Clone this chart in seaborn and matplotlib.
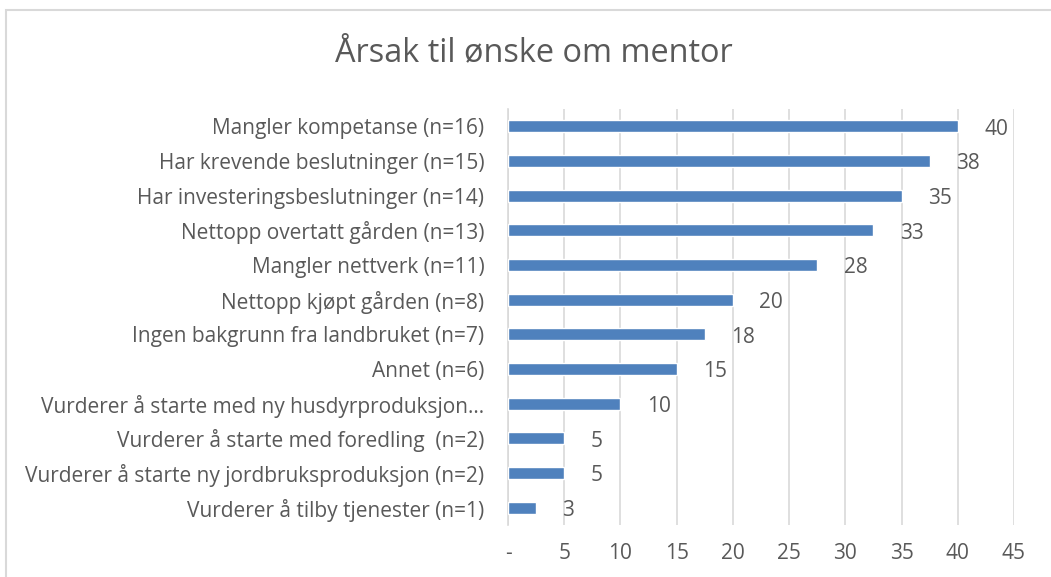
import math
import matplotlib
matplotlib.use("Agg")
import matplotlib.pyplot as plt
from matplotlib.patches import Rectangle
import seaborn as sns
import pandas as pd

# data (percent of respondents)
reasons = [
    "Mangler kompetanse (n=16)",
    "Har krevende beslutninger (n=15)",
    "Har investeringsbeslutninger (n=14)",
    "Nettopp overtatt gården (n=13)",
    "Mangler nettverk (n=11)",
    "Nettopp kjøpt gården (n=8)",
    "Ingen bakgrunn fra landbruket (n=7)",
    "Annet (n=6)",
    "Vurderer å starte med ny husdyrproduksjon…",
    "Vurderer å starte med foredling  (n=2)",
    "Vurderer å starte ny jordbruksproduksjon (n=2)",
    "Vurderer å tilby tjenester (n=1)",
]
percent = [40, 37.5, 35, 32.5, 27.5, 20, 17.5, 15, 10, 5, 5, 2.5]
xticks = [0, 5, 10, 15, 20, 25, 30, 35, 40, 45]
xticklabels = ["-"] + [str(t) for t in xticks[1:]]

df = pd.DataFrame({"Årsak": reasons, "Prosent": percent})

sns.set_style("white")
plt.rcParams["font.family"] = ["Open Sans", "DejaVu Sans"]

txt = "#595959"
grid = "#D9D9D9"
blue = "#4F81BD"
fs = 15

fig = plt.figure(figsize=(10.51, 5.77), dpi=100)
ax = fig.add_axes([508 / 1051, 1 - 525 / 577, (1014 - 508) / 1051, (525 - 109) / 577])

sns.barplot(data=df, x="Prosent", y="Årsak", color=blue, width=0.35,
            saturation=1, ax=ax, zorder=3)

ax.set_xlim(0, 45)
ax.set_ylim(11.5, -0.5)
ax.set_xticks(xticks)
ax.set_xticklabels(xticklabels)
ax.grid(axis="x", color=grid, lw=1.2, zorder=0)
ax.set_xlabel("")
ax.set_ylabel("")
for s in ["top", "right", "bottom"]:
    ax.spines[s].set_visible(False)
ax.spines["left"].set_color(grid)
ax.spines["left"].set_linewidth(1.2)
ax.tick_params(axis="y", length=0, pad=17, labelsize=fs, labelcolor=txt)
ax.tick_params(axis="x", length=0, pad=13, labelsize=fs, labelcolor=txt)

for i, v in enumerate(percent):
    ax.annotate(str(math.floor(v + 0.5)), (v, i), xytext=(19, -2),
                textcoords="offset points", ha="left", va="center",
                fontsize=fs, color=txt)

fig.text(0.508, 1 - 53 / 577, "Årsak til ønske om mentor", ha="center",
         va="center", fontsize=23.4, color=txt)

fig.patches.append(Rectangle((6 / 1051, -0.1), 1.2, 1.1 - 10 / 577,
                             transform=fig.transFigure, fill=False,
                             edgecolor=grid, lw=1.5))

fig.savefig("out.png", dpi=100)
